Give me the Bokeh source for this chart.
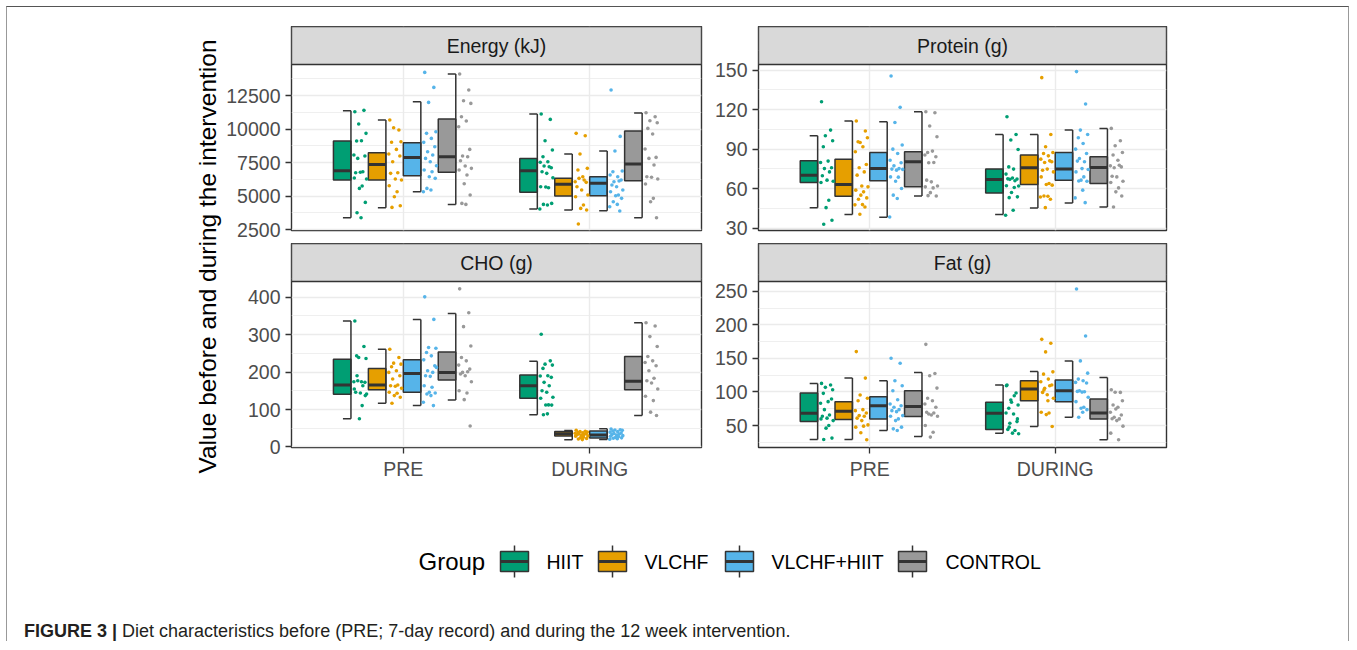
import math
from bokeh.plotting import figure
from bokeh.models import Range1d, FixedTicker, Div, Spacer, Grid
from bokeh.layouts import column, row
from bokeh.embed import file_html
from bokeh.resources import INLINE
from bokeh.core.properties import value

# ---------------- data ----------------
GROUPS = ["HIIT", "VLCHF", "VLCHF+HIIT", "CONTROL"]
COLORS = ["#009E73", "#E69F00", "#56B4E9", "#999999"]
TIMES = ["PRE", "DURING"]
PANEL_TITLES = ["Energy (kJ)", "Protein (g)", "CHO (g)", "Fat (g)"]
Y_TITLE = "Value before and during the intervention"
LEGEND_TITLE = "Group"
CAPTION_BOLD = "FIGURE 3 |"
CAPTION_TEXT = "Diet characteristics before (PRE; 7-day record) and during the 12 week intervention."

# box statistics per group: (lower whisker, q1, median, q3, upper whisker)
ENERGY_PRE_BOX = [(3395, 6208, 6903, 9120, 11381), (4142, 6208, 7375, 8247, 10684),
                  (5336, 6530, 7896, 8993, 12053), (4388, 6779, 7948, 10759, 14120)]
ENERGY_DURING_BOX = [(4042, 5286, 6903, 7821, 11132), (3968, 5014, 5884, 6331, 8150),
                     (3918, 5037, 5958, 6455, 8373), (3396, 6157, 7403, 9866, 11207)]
PROTEIN_PRE_BOX = [(45.5, 64.6, 70.2, 81.1, 100.2), (40.2, 54.2, 63.1, 82.4, 111.4),
                   (38.2, 65.9, 75.2, 87.5, 110.9), (54.4, 61.3, 80.4, 88.0, 118.5)]
PROTEIN_DURING_BOX = [(40.2, 56.7, 66.9, 74.8, 101.2), (45.3, 63.1, 75.8, 85.5, 101.2),
                      (49.1, 66.4, 74.8, 87.5, 104.5), (46.0, 63.8, 76.0, 84.2, 105.8)]
CHO_PRE_BOX = [(75.2, 140.8, 165.5, 234.5, 336.3), (116.9, 153.0, 165.5, 209.8, 261.1),
               (110.5, 146.1, 196.5, 232.7, 340.8), (125.6, 178.7, 199.2, 253.9, 356.7)]
CHO_DURING_BOX = [(85.8, 130.1, 163.6, 192.0, 229.2), (19.4, 29.2, 35.3, 41.5, 44.1),
                  (20.2, 24.0, 32.0, 42.5, 48.6), (83.9, 153.0, 175.3, 241.7, 332.0)]
FAT_PRE_BOX = [(29.3, 55.9, 68.3, 98.4, 112.8), (29.3, 58.9, 71.3, 85.6, 120.7),
               (42.6, 59.9, 79.6, 93.0, 116.7), (33.7, 63.4, 78.2, 101.9, 129.1)]
FAT_DURING_BOX = [(38.7, 44.1, 68.3, 84.6, 110.3), (48.5, 87.0, 104.4, 116.7, 130.6),
                  (62.4, 85.6, 101.9, 117.7, 146.3), (28.8, 59.9, 68.8, 89.6, 121.7)]

# individual values
ENERGY_PRE_HIIT = [11306, 11406, 10385, 9690, 9120, 9142, 8073, 7999, 7821, 6829, 6754, 6790, 6281, 6358, 5761, 5582, 4537, 3769, 3396]
ENERGY_PRE_VLCHF = [10684, 9938, 10112, 9067, 9030, 8493, 8150, 7999, 7575, 6754, 6704, 6281, 6208, 5784, 5336, 4963, 4291, 4166]
ENERGY_PRE_VLCHFHIIT = [14240, 13120, 12003, 9814, 9690, 9316, 9018, 8694, 8321, 8073, 7821, 7575, 7276, 6953, 6829, 6455, 6331, 5582, 5463, 5336]
ENERGY_PRE_CONTROL = [14120, 12926, 12127, 11928, 10933, 10609, 10187, 8493, 7999, 7948, 7649, 7252, 7077, 6953, 6580, 5933, 5088, 4463, 4388]
ENERGY_DURING_HIIT = [11132, 10734, 9142, 8443, 7948, 7575, 7540, 7127, 7252, 7202, 6829, 6704, 6381, 5710, 5635, 5690, 4463, 4388, 4343, 4044]
ENERGY_DURING_VLCHF = [9690, 9515, 8150, 7077, 6953, 6455, 6082, 6032, 6331, 6208, 5710, 5463, 5088, 4963, 4343, 4090, 3968, 2925]
ENERGY_DURING_VLCHFHIIT = [12926, 9465, 8373, 6879, 6829, 6455, 6580, 6208, 6082, 6132, 5834, 5710, 5463, 5336, 5088, 5038, 4838, 4590, 4388, 4217, 3894]
ENERGY_DURING_CONTROL = [11232, 10933, 10634, 10485, 10062, 9640, 8518, 7896, 7821, 7328, 6455, 6420, 6281, 5908, 4838, 4590, 3396]

PROTEIN_PRE_HIIT = [126.1, 104.5, 100.2, 96.4, 91.8, 80.9, 79.8, 75.8, 75.2, 72.7, 69.7, 66.4, 65.6, 64.6, 51.1, 45.5, 35.9, 32.8]
PROTEIN_PRE_VLCHF = [111.4, 103.8, 95.1, 98.7, 95.6, 91.8, 88.0, 78.3, 75.8, 72.7, 70.2, 62.0, 61.3, 58.8, 57.5, 55.0, 52.9, 51.9, 47.8, 47.6, 46.0, 40.5]
PROTEIN_PRE_VLCHFHIIT = [145.7, 121.8, 110.3, 93.1, 90.0, 86.7, 81.6, 79.6, 77.3, 75.2, 74.8, 74.0, 74.6, 68.9, 68.7, 65.6, 60.0, 55.0, 52.4, 38.4]
PROTEIN_PRE_CONTROL = [118.5, 117.7, 107.6, 99.4, 87.5, 88.5, 85.5, 84.2, 79.6, 79.8, 66.4, 65.1, 62.0, 61.3, 60.5, 56.9, 54.4, 54.6]
PROTEIN_DURING_HIIT = [114.7, 101.2, 96.9, 89.7, 76.5, 74.8, 71.0, 67.2, 67.0, 65.9, 67.4, 68.1, 62.0, 62.2, 60.8, 57.0, 53.7, 53.1, 43.5, 39.7]
PROTEIN_DURING_VLCHF = [144.4, 101.2, 91.8, 87.5, 86.7, 84.9, 82.4, 80.4, 79.8, 81.1, 74.0, 74.8, 72.7, 68.9, 63.8, 63.1, 62.6, 54.4, 54.2, 53.6, 51.9, 45.5]
PROTEIN_DURING_VLCHFHIIT = [149.0, 124.4, 104.5, 101.2, 98.7, 94.3, 90.0, 86.7, 82.9, 80.4, 80.9, 75.2, 74.5, 72.7, 68.9, 66.4, 65.6, 65.8, 58.8, 52.9, 49.3]
PROTEIN_DURING_CONTROL = [105.8, 96.4, 92.6, 87.5, 85.5, 81.6, 77.3, 76.5, 75.8, 77.8, 69.4, 68.9, 65.6, 64.6, 60.5, 57.5, 54.4, 46.0]

CHO_PRE_HIIT = [336.3, 268.3, 239.0, 236.4, 243.3, 174.2, 174.0, 172.6, 176.9, 163.6, 146.1, 144.2, 141.6, 154.8, 110.5, 75.2, 137.1, 190.2]
CHO_PRE_VLCHF = [261.1, 239.0, 223.9, 221.2, 214.1, 203.5, 199.2, 190.2, 181.4, 165.5, 163.6, 162.0, 156.7, 146.1, 143.4, 137.1, 132.8, 116.9]
CHO_PRE_VLCHFHIIT = [401.0, 340.8, 265.6, 263.7, 252.3, 243.3, 232.7, 216.7, 203.5, 199.2, 190.2, 188.6, 212.5, 163.6, 159.4, 146.1, 144.2, 141.6, 137.1, 119.5, 110.5]
CHO_PRE_CONTROL = [422.3, 358.6, 321.4, 269.8, 239.0, 230.0, 218.6, 208.0, 199.2, 200.8, 194.7, 190.2, 174.2, 150.3, 144.2, 126.4, 55.8]
CHO_DURING_HIIT = [300.9, 230.0, 221.2, 218.6, 209.8, 190.2, 189.5, 185.9, 172.6, 163.6, 150.3, 146.1, 132.8, 130.1, 112.3, 112.0, 111.8, 85.8, 88.4]
CHO_DURING_VLCHF = [44.5, 42.0, 41.2, 39.8, 38.5, 37.9, 36.4, 35.6, 34.8, 33.1, 32.7, 31.0, 29.5, 28.8, 26.2, 24.9, 22.7, 21.3, 19.6]
CHO_DURING_VLCHFHIIT = [48.1, 46.0, 45.2, 44.3, 42.7, 40.9, 39.5, 37.2, 35.8, 34.1, 33.0, 31.6, 30.2, 28.4, 27.1, 25.6, 24.3, 23.0, 21.8, 20.5]
CHO_DURING_CONTROL = [332.0, 323.0, 294.8, 268.3, 241.7, 230.0, 225.8, 216.7, 203.5, 183.3, 176.9, 170.8, 154.8, 135.5, 123.8, 93.0, 83.9]

FAT_PRE_HIIT = [112.8, 110.3, 106.9, 103.3, 98.0, 85.6, 83.2, 89.6, 73.7, 65.8, 63.9, 61.0, 57.4, 59.9, 50.0, 46.1, 31.3, 29.3]
FAT_PRE_VLCHF = [160.2, 120.7, 95.5, 90.6, 87.0, 73.7, 72.2, 68.8, 64.8, 63.9, 61.0, 57.4, 51.0, 47.6, 49.1, 39.2, 28.8]
FAT_PRE_VLCHFHIIT = [150.3, 142.9, 116.7, 109.3, 101.9, 88.5, 82.1, 79.6, 77.2, 73.7, 72.2, 70.7, 64.8, 63.9, 59.9, 57.4, 47.6, 45.1, 42.6]
FAT_PRE_CONTROL = [171.0, 127.6, 124.1, 105.8, 90.6, 87.0, 82.1, 77.2, 67.3, 68.8, 69.8, 65.8, 63.9, 50.0, 40.1, 32.8]
FAT_DURING_HIIT = [110.3, 98.4, 88.1, 80.7, 75.7, 67.3, 68.8, 55.9, 53.5, 42.6, 44.1, 38.7, 37.7, 109.3, 94.4, 84.6, 59.9, 47.6]
FAT_DURING_VLCHF = [178.4, 172.5, 159.7, 130.0, 126.6, 119.2, 115.2, 110.3, 105.4, 109.3, 99.4, 95.9, 90.6, 69.8, 68.8, 66.3, 48.5, 102.9, 87.0]
FAT_DURING_VLCHFHIIT = [253.5, 183.3, 146.3, 128.1, 119.2, 116.7, 114.3, 113.3, 101.9, 100.4, 100.9, 99.8, 92.1, 85.6, 77.2, 75.7, 73.7, 62.4, 69.8]
FAT_DURING_CONTROL = [103.3, 99.4, 99.6, 87.0, 80.7, 77.2, 69.8, 65.8, 62.4, 59.9, 60.2, 57.4, 49.1, 38.7, 28.8, 74.7]

# axis ticks
ENERGY_TICKS = [2500, 5000, 7500, 10000, 12500]
PROTEIN_TICKS = [30, 60, 90, 120, 150]
CHO_TICKS = [0, 100, 200, 300, 400]
FAT_TICKS = [50, 100, 150, 200, 250]

# ---------------- style / layout ----------------
FONT = "Liberation Sans"
INK = "#333333"
GRID = "#EBEBEB"
SLOT = 0.1875          # dodge width / 4 groups
BOX_W = 0.094
CAP_W = 0.043
JIT_LO = 0.106
JIT_SPAN = 0.074
JIT = [0.12, 0.78, 0.40, 0.93, 0.25, 0.60, 0.05, 0.85, 0.33, 0.70, 0.18, 0.52,
       0.97, 0.08, 0.65, 0.45, 0.88, 0.28, 0.57, 0.02, 0.75, 0.38]

LEFT_W, LEFT_MBL, LEFT_MBR = 489, 69, 10
RIGHT_W, RIGHT_MBL, RIGHT_MBR = 637, 46, 182
PANEL_H = 166
STRIP_H = 38
TOP_MBB = 13
BOT_MBB = 42
TOP_SPACE = 19


def make_panel(title, boxes, points, yr, ticks, width, mbl, mbr, mbb, show_x):
    lo, hi = yr
    hi_ext = hi + (hi - lo) * STRIP_H / PANEL_H     # frame also holds the facet strip
    frame_h = PANEL_H + STRIP_H
    p = figure(width=width, height=frame_h + mbb, x_range=Range1d(0.4, 2.6), y_range=Range1d(lo, hi_ext),
               output_backend="svg", toolbar_location=None, tools="",
               min_border_left=mbl, min_border_right=mbr, min_border_top=0, min_border_bottom=mbb,
               x_axis_location="below" if show_x else None)
    p.extra_x_ranges = {"u": Range1d(0, 1)}
    p.extra_y_ranges = {"u": Range1d(0, frame_h)}
    p.background_fill_color = "white"
    p.border_fill_color = "white"
    p.outline_line_color = INK
    p.outline_line_width = 1.4
    step = ticks[1] - ticks[0]
    minor = [t + step / 2 for t in [ticks[0] - step] + ticks]
    p.yaxis.ticker = FixedTicker(ticks=ticks, minor_ticks=minor)
    p.yaxis.axis_line_color = None
    p.yaxis.major_tick_line_color = INK
    p.yaxis.major_tick_line_width = 1.3
    p.yaxis.major_tick_out = 6
    p.yaxis.major_tick_in = 0
    p.yaxis.minor_tick_line_color = None
    p.yaxis.major_label_standoff = 5
    p.yaxis.major_label_text_font = FONT
    p.yaxis.major_label_text_font_size = "19.5px"
    p.yaxis.major_label_text_color = "#4D4D4D"
    p.ygrid.grid_line_color = GRID
    p.ygrid.grid_line_width = 1.4
    p.ygrid.minor_grid_line_color = GRID
    p.ygrid.minor_grid_line_width = 0.8
    p.xgrid.grid_line_color = None
    p.add_layout(Grid(dimension=0, ticker=FixedTicker(ticks=[1, 2]),
                      grid_line_color=GRID, grid_line_width=1.4), "center")
    if show_x:
        p.xaxis.ticker = FixedTicker(ticks=[1, 2])
        p.xaxis.major_label_overrides = {1: TIMES[0], 2: TIMES[1]}
        p.xaxis.axis_line_color = None
        p.xaxis.major_tick_line_color = INK
        p.xaxis.major_tick_line_width = 1.3
        p.xaxis.major_tick_out = 6
        p.xaxis.major_tick_in = 0
        p.xaxis.minor_tick_line_color = None
        p.xaxis.major_label_standoff = 4
        p.xaxis.major_label_text_font = FONT
        p.xaxis.major_label_text_font_size = "19.5px"
        p.xaxis.major_label_text_color = "#4D4D4D"

    for ti, (tb, tp) in enumerate(zip(boxes, points)):
        t = ti + 1
        for g in range(4):
            wlo, q1, med, q3, whi = tb[g]
            left = t - 2 * SLOT + g * SLOT
            right = left + BOX_W
            p.quad(left=[left], right=[right], bottom=[q1], top=[q3], fill_color=COLORS[g],
                   line_color=INK, line_width=1.5)
            p.segment(x0=[left], x1=[right], y0=[med], y1=[med], line_color=INK, line_width=3)
            p.segment(x0=[right, right - CAP_W, right - CAP_W], x1=[right, right, right],
                      y0=[wlo, wlo, whi], y1=[whi, wlo, whi], line_color=INK, line_width=1.5)
        for g in range(4):
            left = t - 2 * SLOT + g * SLOT
            vals = tp[g]
            xs = [left + JIT_LO + JIT[i % len(JIT)] * JIT_SPAN for i in range(len(vals))]
            p.scatter(xs, vals, size=3.6, fill_color=COLORS[g], line_color=None)

    # facet strip (top band of the frame)
    p.quad(left=[0], right=[1], bottom=[PANEL_H], top=[frame_h], fill_color="#D9D9D9",
           line_color=INK, line_width=1.4, x_range_name="u", y_range_name="u")
    p.text(x=[0.5], y=[PANEL_H + STRIP_H / 2], text=[title], text_align="center", text_baseline="middle",
           text_font=value(FONT), text_font_size="19.5px", text_color="#1A1A1A",
           x_range_name="u", y_range_name="u")
    return p


p_energy = make_panel(PANEL_TITLES[0], [ENERGY_PRE_BOX, ENERGY_DURING_BOX],
                      [[ENERGY_PRE_HIIT, ENERGY_PRE_VLCHF, ENERGY_PRE_VLCHFHIIT, ENERGY_PRE_CONTROL],
                       [ENERGY_DURING_HIIT, ENERGY_DURING_VLCHF, ENERGY_DURING_VLCHFHIIT, ENERGY_DURING_CONTROL]],
                      (2440, 14830), ENERGY_TICKS, LEFT_W, LEFT_MBL, LEFT_MBR, TOP_MBB, False)
p_protein = make_panel(PANEL_TITLES[1], [PROTEIN_PRE_BOX, PROTEIN_DURING_BOX],
                       [[PROTEIN_PRE_HIIT, PROTEIN_PRE_VLCHF, PROTEIN_PRE_VLCHFHIIT, PROTEIN_PRE_CONTROL],
                        [PROTEIN_DURING_HIIT, PROTEIN_DURING_VLCHF, PROTEIN_DURING_VLCHFHIIT, PROTEIN_DURING_CONTROL]],
                       (28.1, 154.4), PROTEIN_TICKS, RIGHT_W, RIGHT_MBL, RIGHT_MBR, TOP_MBB, False)
p_cho = make_panel(PANEL_TITLES[2], [CHO_PRE_BOX, CHO_DURING_BOX],
                   [[CHO_PRE_HIIT, CHO_PRE_VLCHF, CHO_PRE_VLCHFHIIT, CHO_PRE_CONTROL],
                    [CHO_DURING_HIIT, CHO_DURING_VLCHF, CHO_DURING_VLCHFHIIT, CHO_DURING_CONTROL]],
                   (-1.5, 442), CHO_TICKS, LEFT_W, LEFT_MBL, LEFT_MBR, BOT_MBB, True)
p_fat = make_panel(PANEL_TITLES[3], [FAT_PRE_BOX, FAT_DURING_BOX],
                   [[FAT_PRE_HIIT, FAT_PRE_VLCHF, FAT_PRE_VLCHFHIIT, FAT_PRE_CONTROL],
                    [FAT_DURING_HIIT, FAT_DURING_VLCHF, FAT_DURING_VLCHFHIIT, FAT_DURING_CONTROL]],
                   (17.3, 264.6), FAT_TICKS, RIGHT_W, RIGHT_MBL, RIGHT_MBR, BOT_MBB, True)

left_col = column(Spacer(width=LEFT_W, height=TOP_SPACE), p_energy, p_cho)
right_col = column(Spacer(width=RIGHT_W, height=TOP_SPACE), p_protein, p_fat)
COL_H = TOP_SPACE + 2 * (PANEL_H + STRIP_H) + TOP_MBB + BOT_MBB

# y-axis title spanning both panel rows
YT_W = 215
yt = figure(width=YT_W, height=COL_H, x_range=Range1d(0, YT_W), y_range=Range1d(0, COL_H),
            output_backend="svg", toolbar_location=None, tools="", min_border=0,
            x_axis_location=None, y_axis_location=None)
yt.outline_line_color = None
yt.grid.visible = False
yt.text(x=[YT_W - 15], y=[COL_H - 249], text=[Y_TITLE], angle=math.pi / 2,
        text_align="center", text_baseline="middle", text_font=value(FONT),
        text_font_size="24.5px", text_color="#000000")

# legend
LEG_W, LEG_H = 1341, 124
LEG_Y = 52
LEG_TITLE_X = 411
KEY_X = [493, 591, 718, 891]
LABEL_X = [539, 637, 764, 938]
KEY_W, KEY_BOX_H, KEY_WHISK = 28, 20, 6
leg = figure(width=LEG_W, height=LEG_H, x_range=Range1d(0, LEG_W), y_range=Range1d(0, LEG_H),
             output_backend="svg", toolbar_location=None, tools="", min_border=0,
             x_axis_location=None, y_axis_location=None)
leg.outline_line_color = None
leg.grid.visible = False
leg.text(x=[LEG_TITLE_X], y=[LEG_Y], text=[LEGEND_TITLE], text_align="left", text_baseline="middle",
         text_font=value(FONT), text_font_size="24px", text_color="#000000")
for g in range(4):
    x0 = KEY_X[g]
    xc = x0 + KEY_W / 2
    b0 = LEG_Y - KEY_BOX_H / 2
    b1 = LEG_Y + KEY_BOX_H / 2
    leg.segment(x0=[xc, xc], x1=[xc, xc], y0=[b1, b0], y1=[b1 + KEY_WHISK, b0 - KEY_WHISK],
                line_color=INK, line_width=1.5)
    leg.quad(left=[x0], right=[x0 + KEY_W], bottom=[b0], top=[b1], fill_color=COLORS[g],
             line_color=INK, line_width=1.5)
    leg.segment(x0=[x0], x1=[x0 + KEY_W], y0=[LEG_Y], y1=[LEG_Y], line_color=INK, line_width=3)
    leg.text(x=[LABEL_X[g]], y=[LEG_Y], text=[GROUPS[g]], text_align="left", text_baseline="middle",
             text_font=value(FONT), text_font_size="19.5px", text_color="#000000")

caption = Div(text=('<div style="padding:9px 0 0 17px;font-family:\'Liberation Sans\';'
                    'font-size:18px;line-height:1;color:#231F20;white-space:nowrap;">'
                    '<b>%s</b> %s</div>') % (CAPTION_BOLD, CAPTION_TEXT),
              width=LEG_W, height=28, margin=0)

root = column(row(yt, left_col, right_col), leg, caption, margin=(6, 0, 0, 6),
              styles={"border-top": "1px solid #555555", "border-left": "1px solid #999999",
                      "border-right": "1px solid #999999"})

open("out.html", "w").write(file_html(root, INLINE))
